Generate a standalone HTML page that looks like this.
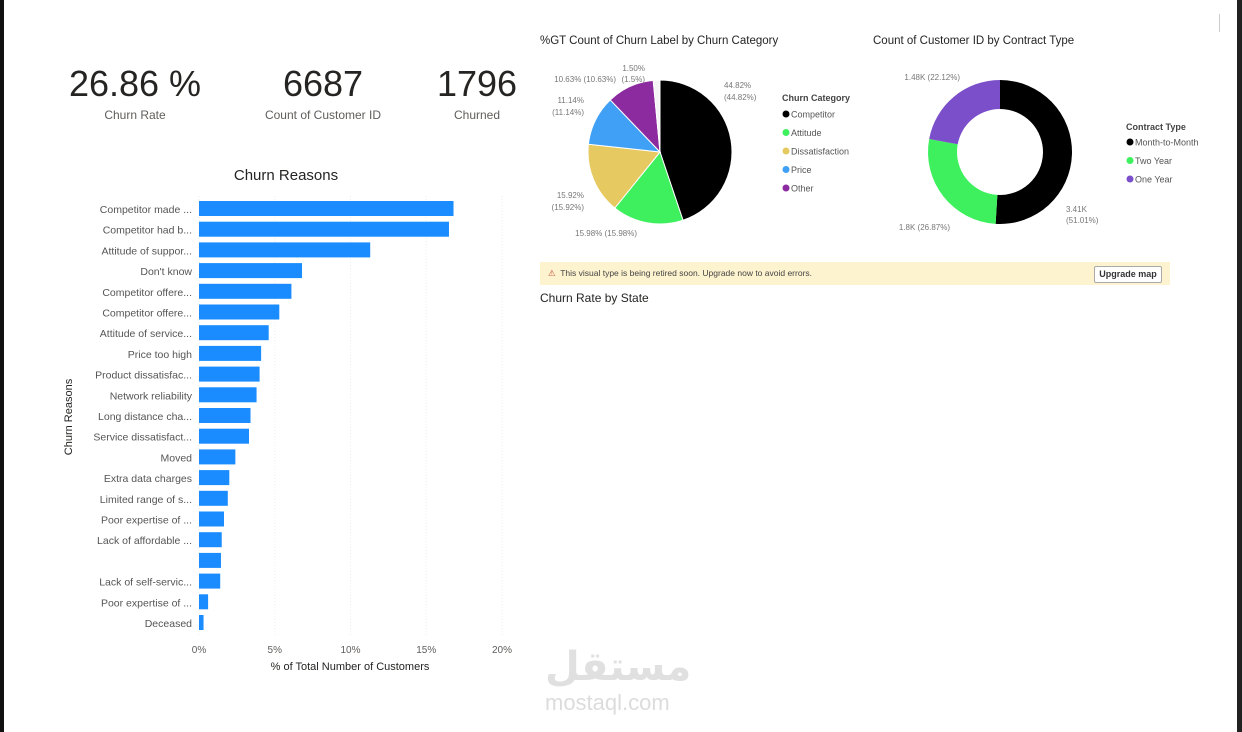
<!DOCTYPE html>
<html><head><meta charset="utf-8">
<style>
html,body{margin:0;padding:0;background:#fff;}
body{width:1242px;height:732px;position:relative;overflow:hidden;font-family:"Liberation Sans",sans-serif;}
.abs{position:absolute;}
.kpi{position:absolute;text-align:center;color:#252423;}
.kpi .v{font-size:36px;line-height:40px;}
.kpi .l{font-size:12px;color:#605e5c;margin-top:4px;}
</style></head>
<body>
<div class="abs" style="left:0;top:0;width:4px;height:732px;background:#111"></div>
<div class="abs" style="left:1237px;top:0;width:5px;height:732px;background:#222"></div>
<div class="abs" style="left:1219px;top:14px;width:1px;height:18px;background:#ccc"></div>

<div class="kpi" style="left:50px;top:64px;width:170px"><div class="v">26.86 %</div><div class="l">Churn Rate</div></div>
<div class="kpi" style="left:243px;top:64px;width:160px"><div class="v">6687</div><div class="l">Count of Customer ID</div></div>
<div class="kpi" style="left:427px;top:64px;width:100px"><div class="v">1796</div><div class="l">Churned</div></div>

<svg class="abs" style="left:0;top:0" width="1242" height="732" id="svg"></svg>

<div class="abs" style="left:540px;top:262px;width:630px;height:23px;background:#fdf3cf"></div>
<div class="abs" style="left:548px;top:268px;font-size:8.5px;color:#444"><span style="color:#c8553d">⚠</span>&nbsp; This visual type is being retired soon. Upgrade now to avoid errors.</div>
<div class="abs" style="left:1094px;top:266px;width:66px;height:15px;border:1px solid #aaa;background:#fff;font-size:9px;font-weight:bold;color:#333;text-align:center;line-height:15px;border-radius:2px">Upgrade map</div>
<div class="abs" style="left:540px;top:291px;font-size:12px;color:#252423">Churn Rate by State</div>

<div class="abs" style="left:545px;top:644px;font-size:40px;font-weight:bold;color:#e0e0e0;font-family:'DejaVu Sans',sans-serif;line-height:46px">مستقل</div>
<div class="abs" style="left:545px;top:690px;font-size:22px;color:#dcdcdc;">mostaql.com</div>

<script>
const reasons=["Competitor made ...","Competitor had b...","Attitude of suppor...","Don't know","Competitor offere...","Competitor offere...","Attitude of service...","Price too high","Product dissatisfac...","Network reliability","Long distance cha...","Service dissatisfact...","Moved","Extra data charges","Limited range of s...","Poor expertise of ...","Lack of affordable ...","","Lack of self-servic...","Poor expertise of ...","Deceased"];
const reasonValues=[16.8,16.5,11.3,6.8,6.1,5.3,4.6,4.1,4.0,3.8,3.4,3.3,2.4,2.0,1.9,1.65,1.5,1.45,1.4,0.6,0.3];
const xTicks=[0,5,10,15,20];
const pieCats=["Competitor","Attitude","Dissatisfaction","Price","Other",""];
const pieValues=[44.82,15.98,15.92,11.14,10.63,1.5];
const pieColors=["#000000","#3ef05e","#e6c960","#3fa0f5","#8c2aa0","#f4f4f4"];
const contractCats=["Month-to-Month","Two Year","One Year"];
const contractValues=[3.41,1.8,1.48];
const contractPct=[51.01,26.87,22.12];
const contractColors=["#000000","#3ef05e","#7b4fc9"];

const NS="http://www.w3.org/2000/svg";
const svg=document.getElementById('svg');
function mk(tag,attrs,parent){const e=document.createElementNS(NS,tag);for(const k in attrs)e.setAttribute(k,attrs[k]);(parent||svg).appendChild(e);return e;}
function txt(s,attrs){const t=mk('text',Object.assign({'font-family':'Liberation Sans, sans-serif'},attrs));t.textContent=s;return t;}

const x0=199,x1=502,xMax=20;
const xs=v=>x0+(v/xMax)*(x1-x0);
const yTop=201,step=20.7,bh=15;
const ys=i=>yTop+i*step;
let t=txt("Churn Reasons",{x:286,y:180,'font-size':15,fill:'#252423','text-anchor':'middle'});

xTicks.forEach(v=>{
  const l=mk('line',{x1:xs(v),x2:xs(v),y1:196,y2:636,stroke:'#eee','stroke-dasharray':'1,2'});
  
  const tt=txt(v+'%',{x:xs(v),y:653,'font-size':10,fill:'#605e5c','text-anchor':'middle'});
  
});
reasons.forEach((c,i)=>{
  const r=mk('rect',{x:x0,y:ys(i),width:xs(reasonValues[i])-x0,height:bh,fill:'#1a8cff'});
  
  const tl=txt(c,{x:192,y:ys(i)+12,'font-size':10.5,fill:'#555','text-anchor':'end'});
  
});
t=txt("% of Total Number of Customers",{x:350,y:670,'font-size':11,fill:'#252423','text-anchor':'middle'});

t=txt("Churn Reasons",{x:72,y:417,'font-size':11,fill:'#252423','text-anchor':'middle',transform:'rotate(-90 72 417)'});


function arc(cx,cy,r,ri,a0,a1){
  const p=(a,rr)=>[cx+rr*Math.sin(a),cy-rr*Math.cos(a)];
  const lg=(a1-a0)>Math.PI?1:0;
  const [x1,y1]=p(a0,r),[x2,y2]=p(a1,r);
  if(ri<=0) return `M${cx},${cy}L${x1},${y1}A${r},${r} 0 ${lg} 1 ${x2},${y2}Z`;
  const [x3,y3]=p(a1,ri),[x4,y4]=p(a0,ri);
  return `M${x1},${y1}A${r},${r} 0 ${lg} 1 ${x2},${y2}L${x3},${y3}A${ri},${ri} 0 ${lg} 0 ${x4},${y4}Z`;
}
t=txt("%GT Count of Churn Label by Churn Category",{x:540,y:44,'font-size':11.5,fill:'#252423'});

const pcx=660,pcy=152,pr=72;
let tot=pieValues.reduce((a,b)=>a+b,0),acc=0;
pieValues.forEach((v,i)=>{
  const a0=acc/tot*2*Math.PI;acc+=v;const a1=acc/tot*2*Math.PI;
  const p=mk('path',{d:arc(pcx,pcy,pr,0,a0,a1),fill:pieColors[i],stroke:'#fff','stroke-width':1});
  
});
const pieLabels=[["44.82%",724,88,'start'],["(44.82%)",724,100,'start'],["11.14%",584,103,'end'],["(11.14%)",584,115,'end'],["15.92%",584,198,'end'],["(15.92%)",584,210,'end'],["15.98% (15.98%)",637,236,'end'],["10.63% (10.63%)",616,82,'end'],["1.50%",645,71,'end'],["(1.5%)",645,82,'end']];
pieLabels.forEach(l=>{const e=txt(l[0],{x:l[1],y:l[2],'font-size':8,fill:'#777','text-anchor':l[3]});
});
t=txt("Churn Category",{x:782,y:101,'font-size':9,'font-weight':'bold',fill:'#444'});

pieCats.slice(0,5).forEach((c,i)=>{
  const y=114+i*18.5;
  const d=mk('circle',{cx:786,cy:y,r:3.5,fill:pieColors[i]});
  
  const e=txt(c,{x:791,y:y+3.5,'font-size':9,fill:'#555'});
  
});
t=txt("Count of Customer ID by Contract Type",{x:873,y:44,'font-size':11.5,fill:'#252423'});

const dcx=1000,dcy=152,dr=72,dri=43;
tot=contractValues.reduce((a,b)=>a+b,0);acc=0;
contractValues.forEach((v,i)=>{
  const a0=acc/tot*2*Math.PI;acc+=v;const a1=acc/tot*2*Math.PI;
  const p=mk('path',{d:arc(dcx,dcy,dr,dri,a0,a1),fill:contractColors[i]});
  
});
const dl=[[contractValues[2]+"K ("+contractPct[2]+"%)",960,80,'end'],[contractValues[0]+"K",1066,212,'start'],["("+contractPct[0]+"%)",1066,223,'start'],[contractValues[1]+"K ("+contractPct[1]+"%)",950,230,'end']];
dl.forEach(l=>{const e=txt(l[0],{x:l[1],y:l[2],'font-size':8,fill:'#777','text-anchor':l[3]});
});
t=txt("Contract Type",{x:1126,y:130,'font-size':9,'font-weight':'bold',fill:'#444'});

contractCats.forEach((c,i)=>{
  const y=142+i*18.5;
  const d=mk('circle',{cx:1130,cy:y,r:3.5,fill:contractColors[i]});
  
  const e=txt(c,{x:1135,y:y+3.5,'font-size':9,fill:'#555'});
  
});
</script>
</body></html>
